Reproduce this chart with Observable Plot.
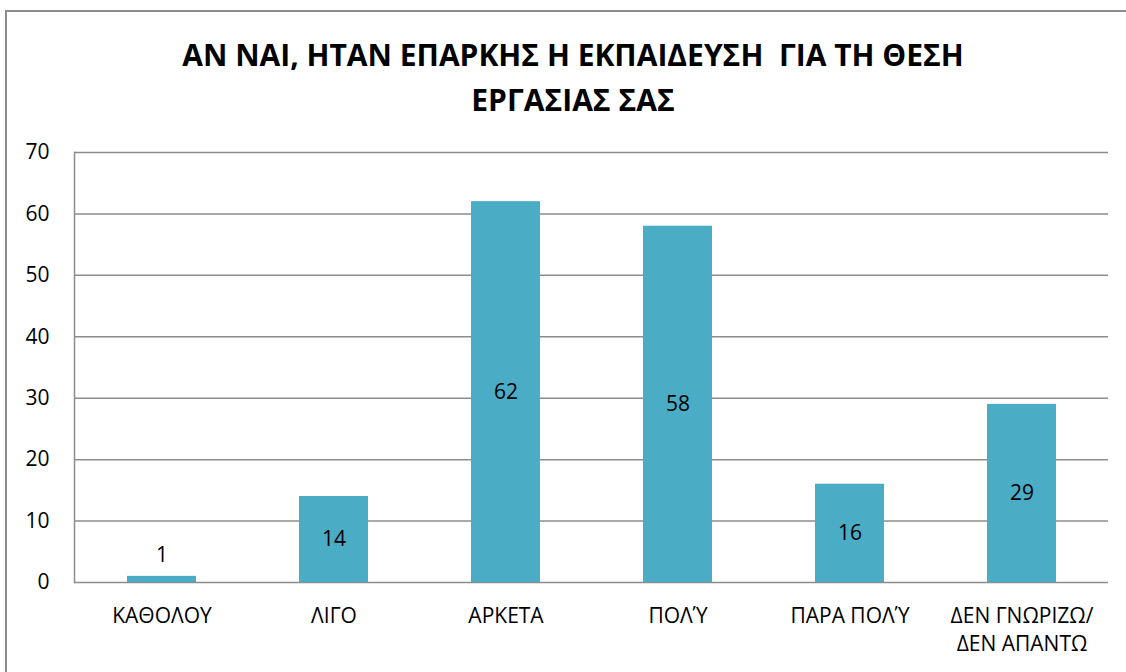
<!DOCTYPE html>
<html>
<head>
<meta charset="utf-8">
<script src="https://cdn.jsdelivr.net/npm/d3@7"></script>
<script src="https://cdn.jsdelivr.net/npm/@observablehq/plot@0.6"></script>
<style>
  html, body { margin: 0; padding: 0; background: #fff; }
  #wrap { position: relative; width: 1126px; height: 672px; overflow: hidden; font-family: "Open Sans", "Noto Sans", sans-serif; }
  #frame { position: absolute; left: 5px; top: 10px; width: 1200px; height: 700px; border: 2px solid #8c8c8c; box-sizing: border-box; }
  #title { position: absolute; left: 0; top: 32px; width: 1146px; text-align: center; font-weight: bold; font-size: 30px; line-height: 45px; color: #000; white-space: pre; }
  #chart { position: absolute; left: 0; top: 130px; }
</style>
</head>
<body>
<div id="wrap">
  <div id="frame"></div>
  <div id="title">ΑΝ ΝΑΙ, ΗΤΑΝ ΕΠΑΡΚΗΣ Η ΕΚΠΑΙΔΕΥΣΗ  ΓΙΑ ΤΗ ΘΕΣΗ
ΕΡΓΑΣΙΑΣ ΣΑΣ</div>
  <div id="chart"></div>
</div>
<script>
const categories = ["ΚΑΘΟΛΟΥ", "ΛΙΓΟ", "ΑΡΚΕΤΑ", "ΠΟΛΎ", "ΠΑΡΑ ΠΟΛΎ", "ΔΕΝ ΓΝΩΡΙΖΩ/\nΔΕΝ ΑΠΑΝΤΩ"];
const values = [1, 14, 62, 58, 16, 29];
const yTicks = [0, 10, 20, 30, 40, 50, 60, 70];

const data = categories.map((c, i) => ({category: c, value: values[i]}));
const inside = data.filter(d => d.value >= 5);
const above = data.filter(d => d.value < 5);

const chart = Plot.plot({
  width: 1126,
  height: 542,
  marginTop: 22,
  marginBottom: 90,
  marginLeft: 74,
  marginRight: 18,
  style: {fontFamily: "'Open Sans', 'Noto Sans', sans-serif", fontSize: "21px", color: "#000", background: "transparent"},
  x: {domain: categories, paddingInner: 0.6, paddingOuter: 0.3, label: null},
  y: {domain: [0, 70], label: null},
  marks: [
    Plot.gridY(yTicks, {stroke: "#8c8c8c", strokeOpacity: 1, strokeWidth: 1.5}),
    Plot.frame({anchor: "left", stroke: "#8c8c8c", strokeWidth: 1.5}),
    Plot.barY(data, {x: "category", y: "value", fill: "#4bacc6"}),
    Plot.axisY(yTicks, {tickSize: 0, tickPadding: 25, fontSize: 21, fill: "#000", label: null}),
    Plot.axisX({tickSize: 0, tickPadding: 20, fontSize: 21, fill: "#000", lineHeight: 1.35, label: null}),
    Plot.text(inside, {x: "category", y: d => d.value / 2, text: d => String(d.value), fontSize: 21, fill: "#000"}),
    Plot.text(above, {x: "category", y: "value", text: d => String(d.value), fontSize: 21, fill: "#000", dy: -21})
  ]
});
document.getElementById("chart").appendChild(chart);
</script>
</body>
</html>
